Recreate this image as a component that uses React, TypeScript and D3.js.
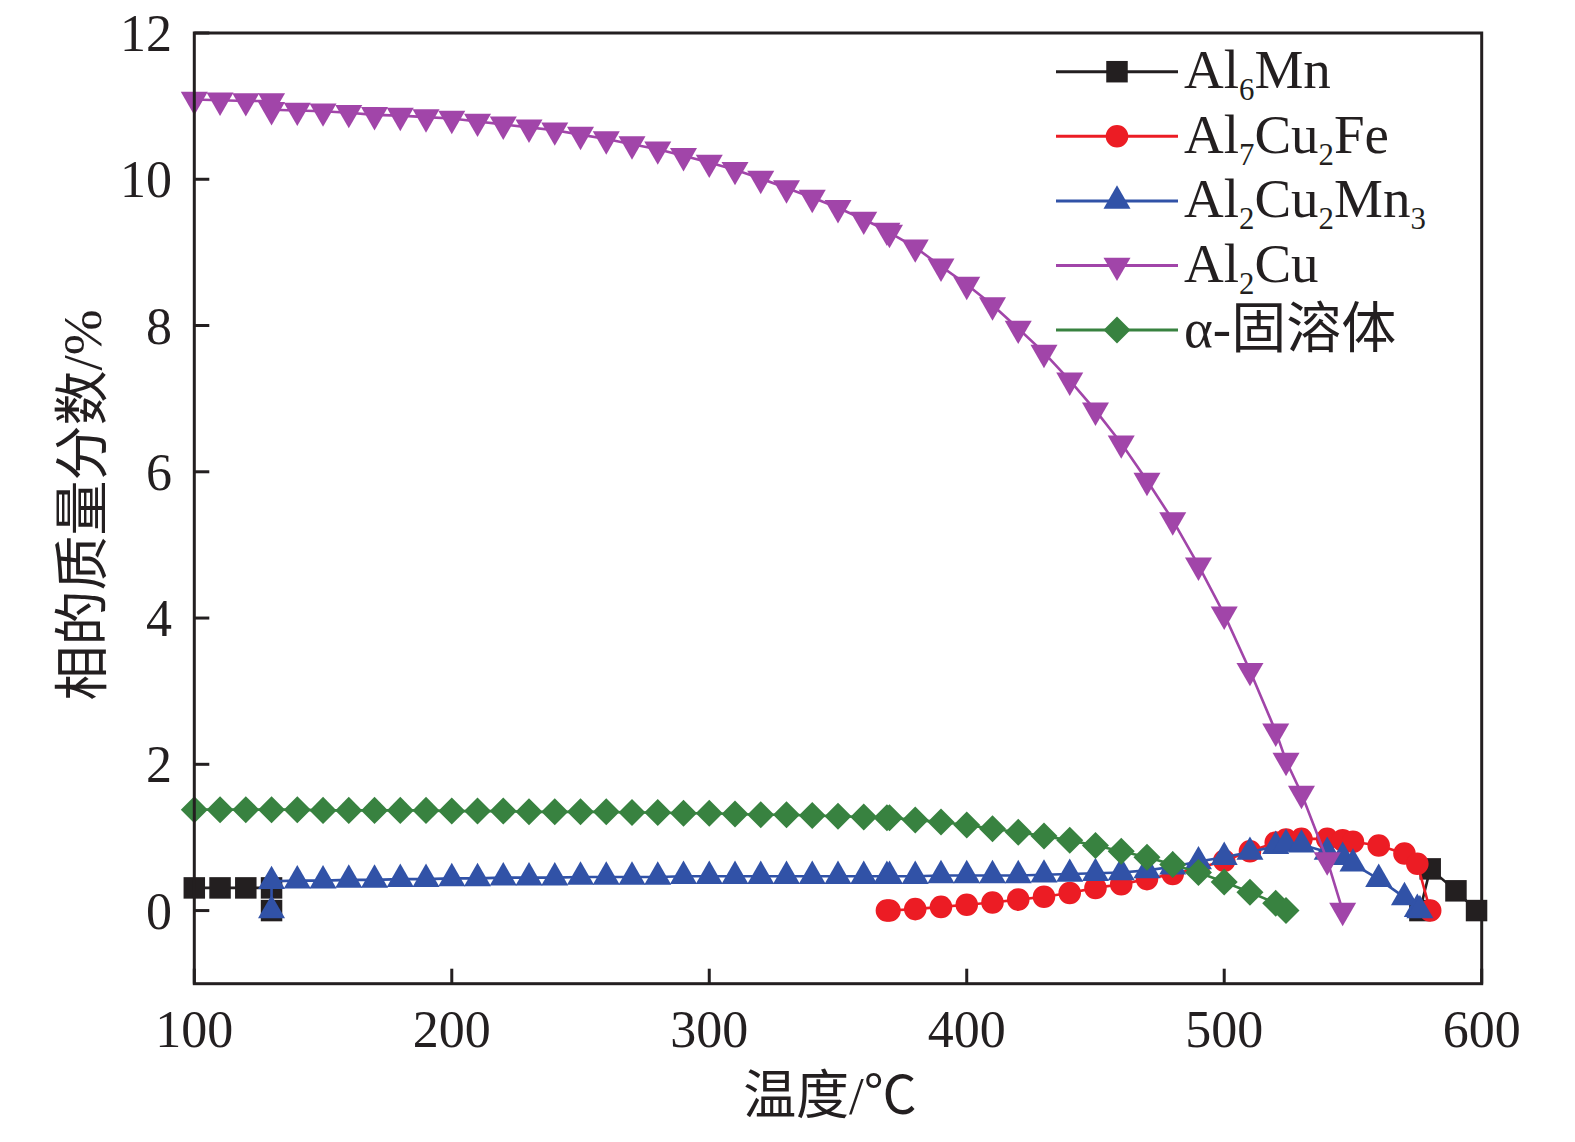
import * as d3 from "d3";

// ---- data (temperature in °C, mass fraction in %) ----
const xTicks = [100, 200, 300, 400, 500, 600];
const yTicks = [0, 2, 4, 6, 8, 10, 12];

// Al6Mn: null marks the gap where the phase is absent
const al6MnT = [100, 110, 120, 130, 130, 350, 576, 580, 590, 598];
const al6MnV = [0.31, 0.31, 0.31, 0.31, 0, null, 0, 0.57, 0.27, 0];

const al7Cu2FeT = [369, 370, 380, 390, 400, 410, 420, 430, 440, 450, 460, 470, 480, 490, 500, 510, 520, 524, 530, 540, 546, 550, 560, 570, 575, 580];
const al7Cu2FeV = [0, 0, 0.02, 0.05, 0.08, 0.11, 0.15, 0.19, 0.24, 0.31, 0.36, 0.43, 0.5, 0.58, 0.68, 0.81, 0.93, 0.97, 0.98, 0.98, 0.96, 0.94, 0.89, 0.78, 0.64, 0];

const al2Cu2Mn3T = [130, 130, 140, 150, 160, 170, 180, 190, 200, 210, 220, 230, 240, 250, 260, 270, 280, 290, 300, 310, 320, 330, 340, 350, 360, 369, 370, 380, 390, 400, 410, 420, 430, 440, 450, 460, 470, 480, 490, 500, 510, 520, 524, 530, 540, 546, 550, 560, 570, 575, 576];
const al2Cu2Mn3V = [0, 0.4, 0.41, 0.41, 0.42, 0.42, 0.43, 0.43, 0.44, 0.44, 0.45, 0.45, 0.45, 0.46, 0.46, 0.46, 0.46, 0.47, 0.47, 0.47, 0.47, 0.47, 0.47, 0.47, 0.47, 0.47, 0.47, 0.47, 0.48, 0.48, 0.48, 0.48, 0.49, 0.5, 0.51, 0.52, 0.55, 0.6, 0.67, 0.73, 0.8, 0.88, 0.91, 0.9, 0.8, 0.73, 0.64, 0.43, 0.18, 0.02, 0];

const al2CuT = [100, 110, 120, 130, 130, 140, 150, 160, 170, 180, 190, 200, 210, 220, 230, 240, 250, 260, 270, 280, 290, 300, 310, 320, 330, 340, 350, 360, 369, 370, 380, 390, 400, 410, 420, 430, 440, 450, 460, 470, 480, 490, 500, 510, 520, 524, 530, 540, 546];
const al2CuV = [11.09, 11.08, 11.07, 11.07, 10.95, 10.94, 10.93, 10.91, 10.88, 10.87, 10.85, 10.83, 10.79, 10.75, 10.71, 10.67, 10.61, 10.55, 10.48, 10.41, 10.32, 10.23, 10.13, 10.01, 9.88, 9.75, 9.61, 9.45, 9.3, 9.27, 9.07, 8.81, 8.56, 8.28, 7.96, 7.63, 7.25, 6.84, 6.39, 5.88, 5.34, 4.72, 4.05, 3.28, 2.45, 2.05, 1.6, 0.69, 0];

const alphaT = [100, 110, 120, 130, 140, 150, 160, 170, 180, 190, 200, 210, 220, 230, 240, 250, 260, 270, 280, 290, 300, 310, 320, 330, 340, 350, 360, 369, 370, 380, 390, 400, 410, 420, 430, 440, 450, 460, 470, 480, 490, 500, 510, 520, 524];
const alphaV = [1.38, 1.38, 1.38, 1.38, 1.38, 1.37, 1.37, 1.37, 1.37, 1.37, 1.36, 1.36, 1.36, 1.35, 1.35, 1.35, 1.35, 1.34, 1.34, 1.33, 1.33, 1.32, 1.31, 1.31, 1.3, 1.29, 1.28, 1.27, 1.27, 1.24, 1.21, 1.17, 1.12, 1.07, 1.02, 0.96, 0.89, 0.81, 0.73, 0.63, 0.52, 0.39, 0.25, 0.1, 0];

const seriesNames = ["Al_6Mn", "Al_7Cu_2Fe", "Al_2Cu_2Mn_3", "Al_2Cu", "α-固溶体"];

type Series = {
  label: string;
  color: string;
  symbol: d3.SymbolType;
  size: number;
  rotate: number;
  t: number[];
  v: (number | null)[];
};

const series: Series[] = [
  { label: seriesNames[0], color: "#231f20", symbol: d3.symbolSquare, size: 462, rotate: 0, t: al6MnT, v: al6MnV },
  { label: seriesNames[1], color: "#ec1c24", symbol: d3.symbolCircle, size: 400, rotate: 0, t: al7Cu2FeT, v: al7Cu2FeV },
  { label: seriesNames[2], color: "#3152a7", symbol: d3.symbolTriangle, size: 316, rotate: 0, t: al2Cu2Mn3T, v: al2Cu2Mn3V },
  { label: seriesNames[3], color: "#a145a9", symbol: d3.symbolTriangle, size: 316, rotate: 180, t: al2CuT, v: al2CuV },
  { label: seriesNames[4], color: "#388240", symbol: d3.symbolSquare, size: 365, rotate: 45, t: alphaT, v: alphaV },
];

const W = 1575;
const H = 1142;
const left = 194.3;
const right = 1481.7;
const top = 33;
const bottom = 983.7;
const FONT = "'Liberation Serif', 'Times New Roman', 'Noto Sans CJK SC', serif";

function SubLabel({ text, x, y, size }: { text: string; x: number; y: number; size: number }) {
  const parts = text.split(/_(\d)/);
  const shift = 12;
  return (
    <text x={x} y={y} fontSize={size} fontFamily={FONT} fill="#231f20">
      {parts.map((p, i) => {
        if (i % 2 === 1)
          return (
            <tspan key={i} dy={shift} fontSize={size * 0.56}>
              {p}
            </tspan>
          );
        return (
          <tspan key={i} dy={i > 0 ? -shift : 0}>
            {p}
          </tspan>
        );
      })}
    </text>
  );
}

export default function App() {
  const x = d3.scaleLinear().domain([100, 600]).range([left, right]);
  const y = d3.scaleLinear().domain([-1, 12]).range([bottom, top]);

  const line = d3
    .line<[number, number | null]>()
    .defined((d) => d[1] !== null)
    .x((d) => x(d[0]))
    .y((d) => y(d[1] as number));

  const tickLen = 15;
  const legX0 = 1056;
  const legX1 = 1178;
  const legY0 = 71.7;
  const legStep = 64.6;

  return (
    <svg
      width={W}
      height={H}
      viewBox={`0 0 ${W} ${H}`}
      style={{ position: "absolute", left: 0, top: 0, background: "#fff" }}
    >
      <rect width={W} height={H} fill="#fff" />

      {/* series: line then markers, in legend order */}
      {series.map((s, si) => {
        const pts: [number, number | null][] = s.t.map((t, i) => [t, s.v[i]]);
        const sym = d3.symbol().type(s.symbol).size(s.size)();
        return (
          <g key={si}>
            <path d={line(pts) ?? ""} fill="none" stroke={s.color} strokeWidth={2.6} strokeLinejoin="round" />
            {pts
              .filter((p) => p[1] !== null)
              .map((p, i) => (
                <path
                  key={i}
                  d={sym ?? ""}
                  fill={s.color}
                  transform={`translate(${x(p[0])},${y(p[1] as number)}) rotate(${s.rotate})`}
                />
              ))}
          </g>
        );
      })}

      {/* frame */}
      <rect x={left} y={top} width={right - left} height={bottom - top} fill="none" stroke="#231f20" strokeWidth={3} />

      {/* x ticks */}
      {xTicks.map((t) => (
        <g key={`x${t}`}>
          <line x1={x(t)} x2={x(t)} y1={bottom} y2={bottom - tickLen} stroke="#231f20" strokeWidth={3} />
          <text x={x(t)} y={1047} textAnchor="middle" fontSize={52} fontFamily={FONT} fill="#231f20">
            {t}
          </text>
        </g>
      ))}

      {/* y ticks */}
      {yTicks.map((t) => (
        <g key={`y${t}`}>
          <line x1={left} x2={left + tickLen} y1={y(t)} y2={y(t)} stroke="#231f20" strokeWidth={3} />
          <text x={172} y={y(t) + 18} textAnchor="end" fontSize={52} fontFamily={FONT} fill="#231f20">
            {t}
          </text>
        </g>
      ))}

      {/* axis titles */}
      <text x={830} y={1114} textAnchor="middle" fontSize={53} fontFamily={FONT} fill="#231f20">
        温度/℃
      </text>
      <text
        transform="translate(101,505) rotate(-90)"
        textAnchor="middle"
        fontSize={55}
        fontFamily={FONT}
        fill="#231f20"
      >
        相的质量分数/%
      </text>

      {/* legend */}
      {series.map((s, i) => {
        const ly = legY0 + i * legStep;
        const sym = d3.symbol().type(s.symbol).size(s.size)();
        return (
          <g key={`leg${i}`}>
            <line x1={legX0} x2={legX1} y1={ly} y2={ly} stroke={s.color} strokeWidth={3} />
            <path d={sym ?? ""} fill={s.color} transform={`translate(${(legX0 + legX1) / 2},${ly}) rotate(${s.rotate})`} />
            <SubLabel text={s.label} x={1184} y={ly + 16.5} size={55} />
          </g>
        );
      })}
    </svg>
  );
}
